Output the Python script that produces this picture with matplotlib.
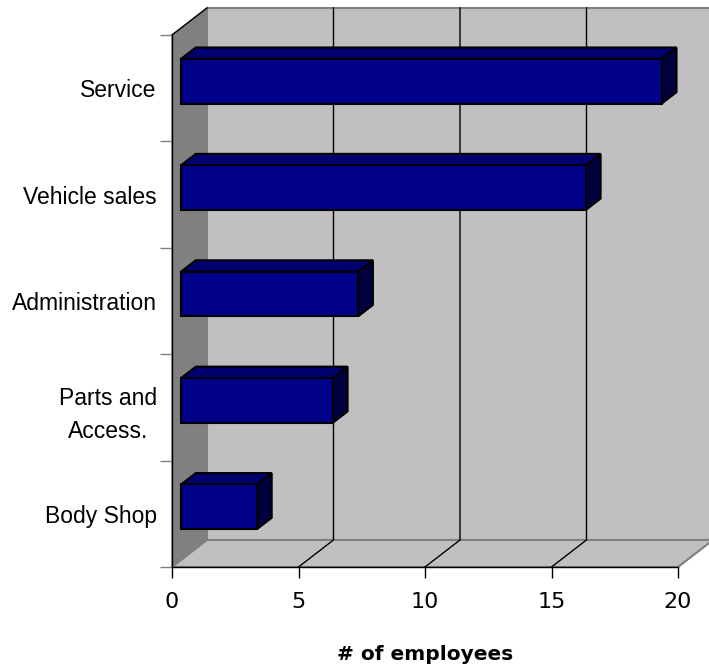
import matplotlib
matplotlib.use('Agg')
import matplotlib.pyplot as plt
from matplotlib.patches import Polygon, Rectangle

# chart data (top to bottom as shown)
categories = ['Service', 'Vehicle sales', 'Administration', 'Parts and\nAccess.', 'Body Shop']
values = [19, 16, 7, 6, 3]
x_ticks = [0, 5, 10, 15, 20]
x_label = '# of employees'

# 3d look: depth of the box in data units, and where the bars sit in it
DX, DY = 1.383, 0.254
F0, F1 = 0.26, 0.68
HALF = 0.21

fig = plt.figure(figsize=(7.09, 6.68), dpi=100)
ax = fig.add_axes([172 / 709, 101 / 668, 506 / 709, 532 / 668])
ax.set_xlim(0, 20)
ax.set_ylim(-0.5, 4.5)
ax.patch.set_visible(False)

y0, y1 = -0.5, 4.5
x1 = x_ticks[-1]

# back wall, left wall, floor
ax.add_patch(Rectangle((DX, y0 + DY), x1, y1 - y0, facecolor='#c0c0c0',
                       edgecolor='#808080', lw=1.5, clip_on=False, zorder=0.5))
ax.add_patch(Polygon([(0, y0), (0, y1), (DX, y1 + DY), (DX, y0 + DY)],
                     facecolor='#808080', edgecolor='#808080', lw=1, clip_on=False, zorder=0.6))
ax.add_patch(Polygon([(0, y0), (x1, y0), (x1 + DX, y0 + DY), (DX, y0 + DY)],
                     facecolor='#c0c0c0', edgecolor='#808080', lw=1.5, clip_on=False, zorder=0.6))
ax.plot([0, DX], [y1, y1 + DY], color='black', lw=1, clip_on=False, zorder=0.7)

# gridlines on floor and back wall
for v in x_ticks[1:-1]:
    ax.plot([v, v + DX, v + DX], [y0, y0 + DY, y1 + DY], color='black', lw=1,
            clip_on=False, zorder=0.8)

# bars
n = len(categories)
for i, (cat, val) in enumerate(zip(categories, values)):
    yc = n - 1 - i
    fx, fy = F0 * DX, F0 * DY
    bx, by = F1 * DX, F1 * DY
    bot, top = yc - HALF, yc + HALF
    ax.add_patch(Polygon([(fx, top + fy), (val + fx, top + fy), (val + bx, top + by), (bx, top + by)],
                         facecolor='#000070', edgecolor='black', lw=1.5, clip_on=False, zorder=1))
    ax.add_patch(Polygon([(val + fx, bot + fy), (val + bx, bot + by), (val + bx, top + by), (val + fx, top + fy)],
                         facecolor='#00003f', edgecolor='black', lw=1.5, clip_on=False, zorder=1))
    ax.add_patch(Rectangle((fx, bot + fy), val, top - bot, facecolor='#000088',
                           edgecolor='black', lw=1.5, clip_on=False, zorder=1.1))

# axes
for s in ['top', 'right']:
    ax.spines[s].set_visible(False)
for s in ['left', 'bottom']:
    ax.spines[s].set_color('black')
    ax.spines[s].set_linewidth(1)
    ax.spines[s].set_zorder(2)

ax.set_xticks(x_ticks)
ax.set_xticklabels([str(t) for t in x_ticks], fontsize=16, family='DejaVu Sans')
ax.tick_params(axis='x', length=8, width=1, color='black', pad=10)

ax.set_yticks(range(n))
ax.set_yticklabels(categories[::-1], fontsize=16.5, family=['Liberation Sans', 'DejaVu Sans'],
                   linespacing=1.55)
for lab in ax.get_yticklabels():
    lab.set_multialignment('center')
ax.set_yticks([k - 0.5 for k in range(n + 1)], minor=True)
ax.tick_params(axis='y', which='major', length=0, pad=11)
ax.tick_params(axis='y', which='minor', length=9, width=1, color='#808080')

ax.set_xlabel(x_label, fontsize=14.5, fontweight='bold', family='DejaVu Sans', labelpad=24)

fig.savefig('out.png', dpi=100)
